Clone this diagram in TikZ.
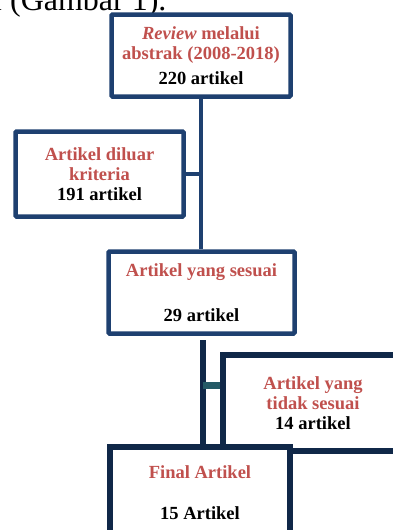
\documentclass[tikz,border=0pt]{standalone}
\usepackage{fontspec}
\setmainfont{Liberation Serif}
\usepackage{tikz}
\usetikzlibrary{positioning, calc}
\definecolor{myblue}{HTML}{1E4070}
\definecolor{mynavy}{HTML}{102848}
\definecolor{myred}{HTML}{C0504D}
\definecolor{myteal}{HTML}{245A66}
\tikzset{
	defaultbox/.style={
			rectangle,
			draw=myblue,
			line width=4.5pt,
			fill=white,
			rounded corners=1pt,
			align=center,
			inner sep=0pt,
			font=\fontsize{18.5}{20}\selectfont\bfseries
		},
	darkbox/.style={
			defaultbox,
			draw=mynavy,
			line width=6pt,
			rounded corners=0pt
		},
	titletext/.style={
			anchor=base west,
			inner sep=0pt,
			font=\fontsize{32}{36}\selectfont
		},
	bluelink/.style={
			draw=myblue,
			line width=4.5pt
		},
	navylink/.style={
			draw=mynavy,
			line width=6pt
		},
	teallink/.style={
			draw=myteal,
			line width=7pt
		}
}

\begin{document}
\begin{tikzpicture}[x=1pt, y=-1pt]
\useasboundingbox (0,0) rectangle (393,530);
\node[titletext] (judul) at (-7,10) {l (Gambar 1).};

\node[defaultbox, minimum width=179pt, minimum height=82pt] (review) at (201,55.5)
  {\textcolor{myred}{\textit{Review} melalui}\\ \textcolor{myred}{abstrak (2008-2018)}\\[5pt] 220 artikel};
\node[defaultbox, minimum width=168pt, minimum height=85pt] (diluar) at (99.5,174)
  {\textcolor{myred}{Artikel diluar}\\ \textcolor{myred}{kriteria}\\ 191 artikel};
\node[defaultbox, minimum width=186pt, minimum height=82pt] (sesuai) at (201.5,292.5)
  {\textcolor{myred}{Artikel yang sesuai}\\[25pt] 29 artikel};
\node[darkbox, minimum width=180pt, minimum height=96pt] (tidaksesuai) at (313,403)
  {\textcolor{myred}{Artikel yang}\\ \textcolor{myred}{tidak sesuai}\\ 14 artikel};
\node[darkbox, minimum width=180pt, minimum height=91pt] (final) at (200,492.5)
  {\textcolor{myred}{Final Artikel}\\[21pt] 15 Artikel};

\coordinate (pisah) at (202.5,340);
\coordinate (cabang) at (202.5,385);

\draw[bluelink] (review.south) -- (review.south |- sesuai.north);
\draw[bluelink] (diluar.east) -- (diluar.east -| review.south);
\draw[navylink] (pisah) -- (pisah |- final.north);
\draw[teallink] (cabang) -- (cabang -| tidaksesuai.west);
\end{tikzpicture}
\end{document}
